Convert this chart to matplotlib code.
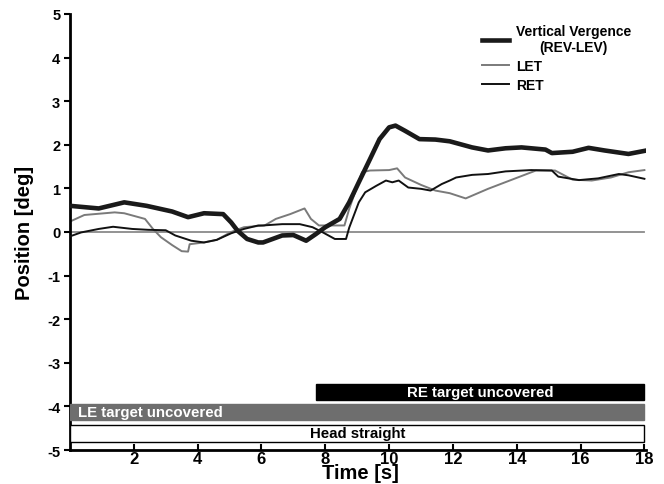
import matplotlib
matplotlib.use("Agg")
import matplotlib.pyplot as plt
import numpy as np

plt.rcParams['font.family'] = ['Liberation Sans', 'DejaVu Sans']
plt.rcParams['font.weight'] = 'bold'
plt.rcParams['axes.unicode_minus'] = False

# vertical vergence (REV-LEV), thick trace
t_vv = [0, 0.9, 1.7, 2.4, 3.2, 3.7, 4.2, 4.8, 5.05, 5.25,
        5.55, 5.9, 6.05, 6.65, 7.0, 7.4, 7.7, 8.0, 8.45, 8.75,
        9.05, 9.4, 9.7, 10.0, 10.2, 10.5, 10.95, 11.45, 11.9, 12.6,
        13.1, 13.65, 14.15, 14.9, 15.1, 15.75, 16.25, 16.75, 17.5, 18.0]
vv = [0.60, 0.54, 0.68, 0.60, 0.47, 0.34, 0.43, 0.41, 0.22, 0.03,
      -0.16, -0.24, -0.24, -0.08, -0.07, -0.20, -0.05, 0.11, 0.30, 0.68,
      1.14, 1.67, 2.13, 2.40, 2.44, 2.32, 2.13, 2.12, 2.08, 1.94,
      1.87, 1.92, 1.94, 1.89, 1.81, 1.84, 1.93, 1.87, 1.79, 1.86]

# left eye target
t_let = [0, 0.45, 1.4, 1.7, 2.35, 2.6, 2.85, 3.2, 3.5, 3.7,
         3.75, 4.2, 4.6, 5.05, 5.45, 6.1, 6.45, 6.9, 7.35, 7.55,
         7.8, 8.1, 8.6, 8.75, 9.15, 9.4, 10.0, 10.25, 10.5, 11.0,
         11.45, 11.9, 12.4, 13.1, 13.85, 14.6, 15.2, 15.75, 16.35, 16.95,
         17.5, 18.0]
let = [0.24, 0.39, 0.45, 0.43, 0.30, 0.07, -0.12, -0.30, -0.44, -0.45,
       -0.28, -0.24, -0.18, 0.0, 0.11, 0.15, 0.30, 0.41, 0.54, 0.30,
       0.15, 0.15, 0.15, 0.53, 1.37, 1.41, 1.42, 1.46, 1.25, 1.08,
       0.95, 0.89, 0.77, 0.99, 1.20, 1.41, 1.41, 1.20, 1.18, 1.25,
       1.37, 1.42]

# right eye target
t_ret = [0, 0.35, 0.9, 1.35, 1.95, 2.45, 3.0, 3.3, 3.8, 4.2,
         4.6, 5.05, 5.45, 5.9, 6.05, 6.65, 7.2, 7.6, 7.9, 8.3,
         8.65, 8.75, 9.05, 9.25, 9.6, 9.9, 10.1, 10.3, 10.6, 11.0,
         11.3, 11.65, 11.9, 12.1, 12.6, 13.1, 13.65, 14.45, 15.1, 15.3,
         15.95, 16.55, 17.2, 17.5, 18.0]
ret = [-0.10, -0.01, 0.07, 0.12, 0.07, 0.05, 0.04, -0.08, -0.20, -0.24,
       -0.18, -0.03, 0.07, 0.15, 0.15, 0.18, 0.18, 0.11, 0.0, -0.16,
       -0.16, 0.10, 0.68, 0.91, 1.06, 1.18, 1.14, 1.18, 1.02, 0.99,
       0.95, 1.10, 1.18, 1.25, 1.31, 1.33, 1.39, 1.42, 1.41, 1.27,
       1.19, 1.23, 1.33, 1.30, 1.22]

# condition bars
cond_labels = ["RE target uncovered", "LE target uncovered", "Head straight"]
cond_start = [7.7, 0, 0]
cond_end = [18, 18, 18]
cond_lo = [-3.85, -4.31, -4.81]
cond_hi = [-3.49, -3.94, -4.42]

fig = plt.figure(figsize=(6.64, 4.85), dpi=100)
ax = fig.add_axes([0.1054, 0.0701, 0.8675, 0.8990])

ax.plot([0, 18], [0, 0], color="#8a8a8a", lw=1.3, zorder=1)
ax.plot(t_let, let, color="#7a7a7a", lw=1.4, label="LET", zorder=2)
ax.plot(t_ret, ret, color="#111111", lw=1.4, label="RET", zorder=3)
ax.plot(t_vv, vv, color="#1a1a1a", lw=3.3, label="Vertical Vergence\n(REV-LEV)", zorder=4)

fills = ["black", "#6e6e6e", "white"]
txtc = ["white", "white", "black"]
for i, lab in enumerate(cond_labels):
    ax.barh((cond_lo[i] + cond_hi[i]) / 2, cond_end[i] - cond_start[i],
            height=cond_hi[i] - cond_lo[i], left=cond_start[i],
            color=fills[i], edgecolor="black" if i == 2 else fills[i], lw=1.0, zorder=5)
    if i == 1:
        ax.text(cond_start[i] + 0.25, (cond_lo[i] + cond_hi[i]) / 2, lab, color=txtc[i],
                fontsize=10.8, fontweight="bold", ha="left", va="center", zorder=6)
    else:
        ax.text((cond_start[i] + cond_end[i]) / 2, (cond_lo[i] + cond_hi[i]) / 2, lab,
                color=txtc[i], fontsize=10.8, fontweight="bold", ha="center", va="center", zorder=6)

ax.set_xlim(0, 18.05)
ax.set_ylim(-5, 5)
ax.set_xticks(np.arange(2, 19, 2))
ax.set_yticks(np.arange(-5, 6, 1))
ax.tick_params(axis="x", direction="in", length=4, width=1.5, labelsize=12, pad=1)
ax.tick_params(axis="y", direction="out", length=4, width=1.5, labelsize=10.5, pad=3)
for lab in ax.get_xticklabels() + ax.get_yticklabels():
    lab.set_fontweight("bold")

for s in ["top", "right"]:
    ax.spines[s].set_visible(False)
for s in ["left", "bottom"]:
    ax.spines[s].set_linewidth(2)

ax.set_ylabel("Position [deg]", fontsize=14.5, fontweight="bold")
ax.yaxis.set_label_coords(-0.062, 0.5)
ax.text(9.1, -5.52, "Time [s]", fontsize=14.5, fontweight="bold", ha="center", va="center")

h, l = ax.get_legend_handles_labels()
order = [2, 0, 1]
leg = ax.legend([h[k] for k in order], [l[k] for k in order], loc="upper left",
                bbox_to_anchor=(0.705, 0.99), frameon=False, fontsize=10,
                handlelength=2.0, handletextpad=0.45, labelspacing=0.35, borderaxespad=0)
for t in leg.get_texts():
    t.set_fontweight("bold")
    t.set_multialignment("center")

fig.savefig("out.png", dpi=100)
